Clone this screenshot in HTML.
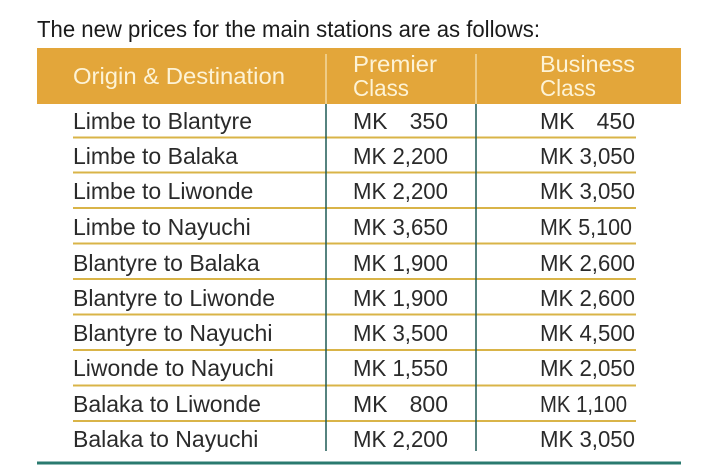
<!DOCTYPE html>
<html><head><meta charset="utf-8"><style>
html,body{margin:0;padding:0;background:#fff;}
svg{display:block;font-family:"Liberation Sans",sans-serif;}
</style></head><body>
<svg width="716" height="474" viewBox="0 0 716 474">
<text x="37" y="37" font-size="23" fill="#1a1a1a" textLength="503" lengthAdjust="spacingAndGlyphs">The new prices for the main stations are as follows:</text>
<rect x="37" y="48" width="644" height="56" fill="#e3a63a"/>
<g fill="#fdf3d6" font-size="23">
<text x="73" y="84" textLength="212" lengthAdjust="spacingAndGlyphs">Origin &amp; Destination</text>
<text x="353" y="72" textLength="84" lengthAdjust="spacingAndGlyphs">Premier</text>
<text x="353" y="96" textLength="56" lengthAdjust="spacingAndGlyphs">Class</text>
<text x="540" y="72" textLength="95" lengthAdjust="spacingAndGlyphs">Business</text>
<text x="540" y="96" textLength="56" lengthAdjust="spacingAndGlyphs">Class</text>
</g>
<line x1="326" y1="54" x2="326" y2="104" stroke="#f3d9a0" stroke-width="1.5"/>
<line x1="476" y1="54" x2="476" y2="104" stroke="#f3d9a0" stroke-width="1.5"/>
<g stroke="#d9b448" stroke-width="2">
<line x1="73" y1="137.5" x2="636" y2="137.5"/>
<line x1="73" y1="172.5" x2="636" y2="172.5"/>
<line x1="73" y1="208" x2="636" y2="208"/>
<line x1="73" y1="243.5" x2="636" y2="243.5"/>
<line x1="73" y1="279" x2="636" y2="279"/>
<line x1="73" y1="314.5" x2="636" y2="314.5"/>
<line x1="73" y1="350" x2="636" y2="350"/>
<line x1="73" y1="385.5" x2="636" y2="385.5"/>
<line x1="73" y1="421" x2="636" y2="421"/>
</g>
<line x1="326" y1="104" x2="326" y2="451" stroke="#1f5a55" stroke-width="1.5"/>
<line x1="476" y1="104" x2="476" y2="451" stroke="#1f5a55" stroke-width="1.5"/>
<line x1="37" y1="463" x2="681" y2="463" stroke="#2a7a6f" stroke-width="3"/>
<g fill="#2a2a2a" font-size="23">
<text x="73" y="129">Limbe to Blantyre</text>
<text x="73" y="164">Limbe to Balaka</text>
<text x="73" y="199">Limbe to Liwonde</text>
<text x="73" y="235">Limbe to Nayuchi</text>
<text x="73" y="271">Blantyre to Balaka</text>
<text x="73" y="306">Blantyre to Liwonde</text>
<text x="73" y="341">Blantyre to Nayuchi</text>
<text x="73" y="376">Liwonde to Nayuchi</text>
<text x="73" y="412">Balaka to Liwonde</text>
<text x="73" y="447">Balaka to Nayuchi</text>
</g>
<g fill="#2a2a2a" font-size="23" lengthAdjust="spacingAndGlyphs">
<text x="353" y="129">MK</text><text x="448" y="129" text-anchor="end">350</text>
<text x="353" y="164" textLength="95" lengthAdjust="spacingAndGlyphs">MK 2,200</text>
<text x="353" y="199" textLength="95" lengthAdjust="spacingAndGlyphs">MK 2,200</text>
<text x="353" y="235" textLength="95" lengthAdjust="spacingAndGlyphs">MK 3,650</text>
<text x="353" y="271" textLength="95" lengthAdjust="spacingAndGlyphs">MK 1,900</text>
<text x="353" y="306" textLength="95" lengthAdjust="spacingAndGlyphs">MK 1,900</text>
<text x="353" y="341" textLength="95" lengthAdjust="spacingAndGlyphs">MK 3,500</text>
<text x="353" y="376" textLength="95" lengthAdjust="spacingAndGlyphs">MK 1,550</text>
<text x="353" y="412">MK</text><text x="448" y="412" text-anchor="end">800</text>
<text x="353" y="447" textLength="95" lengthAdjust="spacingAndGlyphs">MK 2,200</text>
<text x="540" y="129">MK</text><text x="635" y="129" text-anchor="end">450</text>
<text x="540" y="164" textLength="95" lengthAdjust="spacingAndGlyphs">MK 3,050</text>
<text x="540" y="199" textLength="95" lengthAdjust="spacingAndGlyphs">MK 3,050</text>
<text x="540" y="235" textLength="92" lengthAdjust="spacingAndGlyphs">MK 5,100</text>
<text x="540" y="271" textLength="95" lengthAdjust="spacingAndGlyphs">MK 2,600</text>
<text x="540" y="306" textLength="95" lengthAdjust="spacingAndGlyphs">MK 2,600</text>
<text x="540" y="341" textLength="95" lengthAdjust="spacingAndGlyphs">MK 4,500</text>
<text x="540" y="376" textLength="95" lengthAdjust="spacingAndGlyphs">MK 2,050</text>
<text x="540" y="412" textLength="87" lengthAdjust="spacingAndGlyphs">MK 1,100</text>
<text x="540" y="447" textLength="95" lengthAdjust="spacingAndGlyphs">MK 3,050</text>
</g>
</svg>
</body></html>
